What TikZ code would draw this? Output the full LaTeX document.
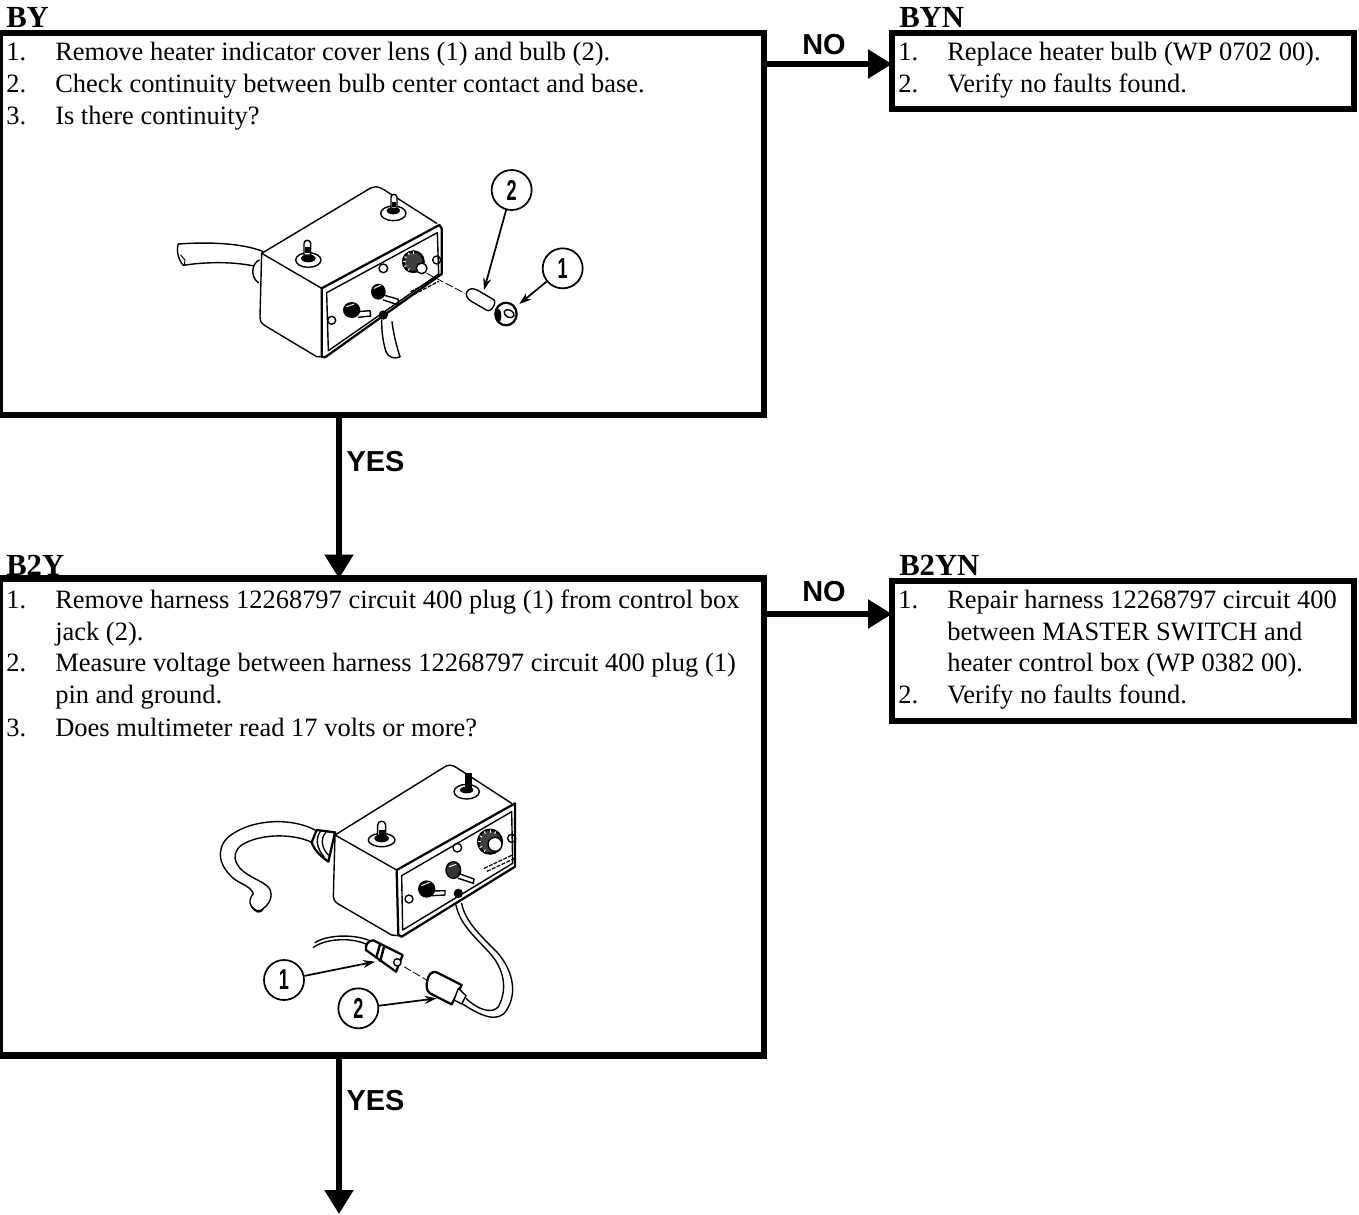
\documentclass[tikz,border=0pt]{standalone}
\usepackage{fontspec}
\setmainfont{Liberation Serif}
\newfontfamily\labelfont{Liberation Sans}
\usetikzlibrary{arrows.meta,calc}
\tikzset{
  box/.style={draw=black,line width=4.8pt,rectangle,inner sep=0pt,outer sep=0pt,fill=white},
  flow/.style={line width=4pt,-{Triangle[length=18pt,width=21pt]},shorten >=0pt},
  tag/.style={anchor=base west,inner sep=0pt,font=\fontsize{23}{24}\selectfont\bfseries},
  dec/.style={anchor=center,inner sep=0pt,font=\labelfont\fontsize{21.7}{22}\selectfont\bfseries},
  tx/.style={anchor=base west,inner sep=0pt,font=\fontsize{19.85}{22}\selectfont},
  ink/.style={line width=1.05pt,line join=round,line cap=round},
  thin ink/.style={line width=0.7pt,line join=round,line cap=round},
  heavy ink/.style={line width=1.7pt,line join=round,line cap=round},
  callout/.style={draw,circle,line width=1.3pt,minimum size=30pt,inner sep=0pt,fill=white,font=\labelfont\fontsize{16}{16}\selectfont\bfseries},
  pointer/.style={line width=1.3pt,-{Stealth[length=9pt,width=6pt]}},
  leader/.style={line width=0.6pt,dash pattern=on 6pt off 2pt}
}
\newcommand{\numline}[5]{\node[tx] (#1n) at (#2,#3) {#4}; \node[tx] (#1t) at ($(#1n.base west)+(49,0)$) {#5};}
\newcommand{\digit}[1]{\scalebox{0.85}[1.35]{#1}}
\begin{document}
\begin{tikzpicture}[x=0.75pt,y=-0.75pt]
\useasboundingbox (0,0) rectangle (1359,1214);
% boxes
\node[box,minimum width=764*0.75pt,minimum height=382*0.75pt] (by) at (382,224) {};
\node[box,minimum width=462*0.75pt,minimum height=76*0.75pt] (byn) at (1123,71) {};
\node[box,minimum width=764*0.75pt,minimum height=477*0.75pt] (b2y) at (382,817) {};
\node[box,minimum width=462*0.75pt,minimum height=140*0.75pt] (b2yn) at (1123,651) {};
\coordinate (end) at (339,1214);
% titles
\node[tag] (tby) at (6,27) {BY};
\node[tag] (tbyn) at (899,27) {BYN};
\node[tag] (tb2y) at (6,575) {B2Y};
\node[tag] (tb2yn) at (899,575) {B2YN};
% connectors
\path (byn.west) ++(0,-7) coordinate (pa);
\draw[flow] (by.east |- pa) -- (pa);
\path (b2yn.west) ++(0,-37) coordinate (pb);
\draw[flow] (b2y.east |- pb) -- (pb);
\draw[flow] (339,417) coordinate (pc) -- (pc |- b2y.north);
\draw[flow] (pc |- b2y.south) -- (end);
\node[dec] (no1) at (824,45) {NO};
\node[dec] (no2) at (824,592) {NO};
\node[dec] (yes1) at (375.5,462) {YES};
\node[dec] (yes2) at (375.5,1101) {YES};
% text
\numline{a1}{6}{60}{1.}{Remove heater indicator cover lens (1) and bulb (2).}
\numline{a2}{6}{92}{2.}{Check continuity between bulb center contact and base.}
\numline{a3}{6}{124}{3.}{Is there continuity?}
\numline{b1}{898}{60}{1.}{Replace heater bulb (WP 0702 00).}
\numline{b2}{898}{92}{2.}{Verify no faults found.}
\numline{c1}{6}{608}{1.}{Remove harness 12268797 circuit 400 plug (1) from control box}
\node[tx] (c1b) at (55,640) {jack (2).};
\numline{c2}{6}{671}{2.}{Measure voltage between harness 12268797 circuit 400 plug (1)}
\node[tx] (c2b) at (55,703) {pin and ground.};
\numline{c3}{6}{736}{3.}{Does multimeter read 17 volts or more?}
\numline{d1}{898}{608}{1.}{Repair harness 12268797 circuit 400}
\node[tx] (d1b) at (947,640) {between MASTER SWITCH and};
\node[tx] (d1c) at (947,671) {heater control box (WP 0382 00).};
\numline{d2}{898}{703}{2.}{Verify no faults found.}
% illustration 1
\begin{scope}[shift={(150,160)},x=0.25pt,y=-0.25pt]
\draw[ink] (335,280) -- (655,88) .. controls (670,78) and (685,78) .. (700,88) -- (860,190);
\draw[ink] (335,280) -- (515,385);
\draw[heavy ink] (515,385) -- (868,195) -- (875,205) -- (875,342) -- (525,592) -- (515,590) -- cycle;
\draw[ink] (530,398) -- (862,218) -- (866,342) -- (535,572) -- cycle;
\draw[ink] (335,280) -- (330,470) .. controls (330,485) and (335,490) .. (345,497) -- (500,590) -- (515,590);
% left cable
\draw[ink] (340,275) .. controls (280,250) and (180,245) .. (85,252);
\draw[ink] (312,318) .. controls (250,305) and (170,305) .. (100,316);
\draw[ink] (85,252) .. controls (78,270) and (85,300) .. (100,316);
\draw[thin ink] (92,285) -- (105,300) -- (103,315);
\draw[ink] (328,300) .. controls (305,310) and (300,350) .. (325,368);
% toggles on top
\draw[ink] (475,300) ellipse [x radius=38,y radius=22];
\fill (475,295) ellipse [x radius=22,y radius=12];
\draw[ink,fill=white] (462,250) .. controls (462,238) and (482,238) .. (482,250) -- (482,285) -- (462,285) -- cycle;
\fill (465,262) rectangle (480,280);
\draw[ink] (730,160) ellipse [x radius=38,y radius=22];
\fill (730,152) ellipse [x radius=20,y radius=11];
\draw[ink,fill=white] (723,112) .. controls (723,100) and (741,100) .. (741,112) -- (741,145) -- (723,145) -- cycle;
\fill (726,125) rectangle (739,142);
% front controls
\fill (605,450) ellipse [x radius=26,y radius=24];
\draw[white,thin ink] (590,440) -- (612,432);
\draw[ink] (625,455) -- (660,452) -- (662,468) -- (625,472);
\fill (685,395) ellipse [x radius=22,y radius=24];
\draw[white,thin ink] (672,385) -- (692,376);
\draw[ink] (700,405) -- (745,418) -- (745,435) -- (700,420);
\draw[ink] (545,481) circle (12);
\draw[ink] (700,325) circle (13);
\draw[ink] (860,300) circle (12);
\fill (700,465) circle (14);
\draw[heavy ink,fill=black!75] (790,305) circle (31);
\foreach \a in {120,150,180,210,240,270} {\draw[white,thin ink] ($(790,305)+(\a:24)$) -- ($(790,305)+(\a:30)$);}
\draw[ink,fill=white] (815,325) circle (16);
% legend
\foreach \i in {0,1} {\draw[line width=0.9pt,dash pattern=on 3pt off 1pt] ($(782,397)+(9*\i,9*\i)+(0,-2)$) -- ($(782,397)+(9*\i,9*\i)+(75,-42)$);}
% lower cable
\draw[ink] (695,480) .. controls (695,520) and (700,550) .. (708,575);
\draw[ink] (726,485) .. controls (730,520) and (740,560) .. (750,590);
\draw[ink] (708,575) .. controls (712,590) and (735,600) .. (750,590);
% leader, bulb, lens
\coordinate (bulb) at (990,417);
\coordinate (lens) at (1068,462);
\draw[leader] (830,340) -- (945,400);
\draw[ink,rotate around={-30:(bulb)},fill=white] (945,417) .. controls (945,405) and (958,398) .. (970,398) -- (1025,398) .. controls (1040,398) and (1040,436) .. (1025,436) -- (970,436) .. controls (958,436) and (945,429) .. (945,417) -- cycle;
\draw[heavy ink,fill=white] (lens) ellipse [x radius=32,y radius=34];
\fill (1045,467) ellipse [x radius=9,y radius=20];
\draw[ink,rotate around={-25:(lens)}] (1076,457) ellipse [x radius=16,y radius=11];
% callouts
\node[callout] (ca) at (1238,325) {\digit{1}};
\node[callout] (cb) at (1085,90) {\digit{2}};
\draw[pointer] (ca) -- (1108,432);
\draw[pointer] (cb) -- (1002,390);
\end{scope}
% illustration 2
\begin{scope}[shift={(200,755)},x=0.25pt,y=-0.25pt]
\draw[ink] (405,240) -- (730,38) .. controls (745,28) and (755,28) .. (770,38) -- (935,145);
\draw[ink] (405,240) -- (590,345);
\draw[heavy ink] (590,345) -- (945,145) -- (945,335) -- (605,545) -- (595,540) -- cycle;
\draw[ink] (605,362) -- (935,170) -- (938,325) -- (608,525) -- cycle;
\draw[ink] (405,240) -- (400,425) .. controls (400,435) and (405,440) .. (415,447) -- (575,540) -- (595,542);
% left cable
\draw[ink] (345,225) .. controls (280,190) and (170,190) .. (100,235) .. controls (50,265) and (50,320) .. (90,360) .. controls (110,385) and (150,390) .. (160,415) .. controls (150,430) and (145,440) .. (155,455) .. controls (165,465) and (175,475) .. (190,460);
\draw[ink] (335,262) .. controls (280,235) and (180,235) .. (125,270) .. controls (105,285) and (100,305) .. (110,325) .. controls (130,365) and (190,375) .. (208,400) .. controls (222,425) and (205,450) .. (190,460);
\draw[ink] (155,455) .. controls (165,470) and (180,480) .. (190,460);
% grommet
\draw[heavy ink] (350,225) -- (405,232) -- (385,320) .. controls (365,305) and (345,290) .. (335,262) -- cycle;
\draw[ink] (362,228) .. controls (345,250) and (350,280) .. (372,305);
\draw[ink] (378,232) .. controls (360,250) and (365,280) .. (385,300);
% toggles on top
\draw[ink] (545,255) ellipse [x radius=40,y radius=20];
\fill (545,250) ellipse [x radius=22,y radius=12];
\draw[ink,fill=white] (533,210) .. controls (533,195) and (557,195) .. (557,210) -- (557,242) -- (533,242) -- cycle;
\fill (536,225) rectangle (554,240);
\draw[ink] (800,110) ellipse [x radius=38,y radius=22];
\fill (800,105) ellipse [x radius=20,y radius=10];
\fill (795,55) rectangle (815,100);
% front controls
\fill (680,402) ellipse [x radius=26,y radius=26];
\draw[white,thin ink] (665,392) -- (688,382);
\draw[ink] (695,408) -- (735,407) -- (735,420) -- (695,422);
\draw[ink,fill=black!80] (760,345) ellipse [x radius=22,y radius=25];
\draw[white,thin ink] (748,335) -- (768,328);
\draw[ink] (775,355) -- (822,372) -- (820,385) -- (775,370);
\draw[ink] (627,432) circle (12);
\draw[ink] (772,278) circle (13);
\draw[ink] (935,250) circle (12);
\fill (775,415) circle (14);
\draw[heavy ink,fill=black!75] (870,260) circle (36);
\foreach \a in {120,150,180,210,240,270,300} {\draw[white,thin ink] ($(870,260)+(\a:28)$) -- ($(870,260)+(\a:35)$);}
\draw[ink,fill=white] (885,268) circle (21);
% legend
\foreach \i in {0,1} {\draw[line width=0.9pt,dash pattern=on 3pt off 1pt] ($(852,342)+(9*\i,9*\i)+(0,-2)$) -- ($(852,342)+(9*\i,9*\i)+(85,-42)$);}
% right cable
\draw[ink] (768,450) .. controls (780,510) and (830,550) .. (870,595) .. controls (910,640) and (925,700) .. (895,755) .. controls (880,775) and (840,770) .. (798,730);
\draw[ink] (785,445) .. controls (795,500) and (845,545) .. (890,590) .. controls (935,640) and (955,710) .. (920,765) .. controls (895,805) and (845,785) .. (785,745);
% plug 2
\draw[heavy ink,fill=white] (680,695) .. controls (680,670) and (690,645) .. (710,652) -- (785,690) -- (755,748) -- (690,715) .. controls (685,712) and (680,705) .. (680,695) -- cycle;
\draw[ink,fill=white] (775,700) -- (798,722) -- (785,747) -- (762,735) -- cycle;
% plug 1
\draw[ink] (340,577) .. controls (375,552) and (450,545) .. (500,568);
\draw[ink] (345,563) .. controls (375,542) and (450,535) .. (505,555);
\draw[heavy ink,fill=white] (498,585) .. controls (495,570) and (505,555) .. (520,556) -- (608,600) -- (588,650) -- cycle;
\draw[line width=1.8pt] (540,568) -- (528,610);
\draw[line width=1.8pt] (552,576) -- (540,620);
\draw[ink,fill=white] (592,622) circle (11);
\coordinate (plugtip) at (525,620);
\coordinate (sockettip) at (710,730);
\draw[leader] (612,635) -- (680,675);
% callouts
\node[callout] (cc) at (252,675) {\digit{1}};
\node[callout] (cd) at (475,760) {\digit{2}};
\draw[pointer] (cc) -- (plugtip);
\draw[pointer] (cd) -- (sockettip);
\end{scope}
\end{tikzpicture}
\end{document}
